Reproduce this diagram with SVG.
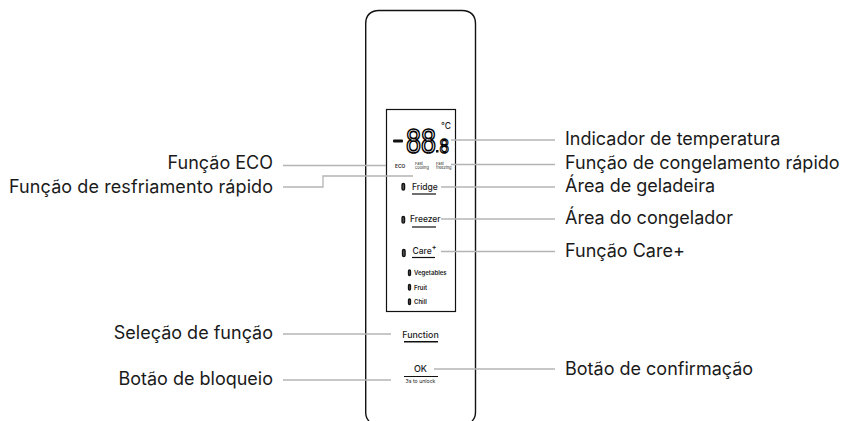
<svg xmlns="http://www.w3.org/2000/svg" width="843" height="421" viewBox="0 0 843 421">
<style>
text{font-family:Inter,"Liberation Sans",sans-serif;fill:#1a1a1a}
.l{font-size:18px}
.e{text-anchor:end}
.m{text-anchor:middle}
.c{fill:none;stroke:#b4b4b4;stroke-width:1.3}
.k{stroke:#111;fill:none}
.p{font-size:8.5px;font-weight:500}
.s{font-size:4px}
.t{font-size:6px;font-weight:600}
.o{fill:#555;stroke:#111;stroke-width:1.300}
.seg{font-family:"Liberation Sans",sans-serif;fill:#fff;stroke:#000;stroke-width:1.700}
</style>
<rect width="843" height="421" fill="#fff"/>
<g id="panel"><path class="k" stroke-width="1.4" d="M369 421Q365.700 418 365.700 412V24Q365.700 11 379 10.500H462Q475.500 11 475.500 24V412Q475.500 418 472 421"/></g>
<g id="display"><rect class="k" x="386.500" y="109.500" width="69" height="202" stroke-width="1.2"/>
<rect x="393" y="139.500" width="10" height="3" rx="1" fill="#111"/>
<text class="seg" transform="translate(406 152.500) scale(.77 1)" font-size="35">88</text>
<rect x="436" y="150" width="2.500" height="2.500" fill="#111"/>
<text class="seg" transform="translate(439.500 152.500) scale(.81 1)" font-size="21" style="stroke-width:1.300">8</text>
<text x="441" y="129" font-size="8.500" style="font-weight:500">°C</text>
</g>
<g id="eco"><text x="395" y="167.500" style="font-size:4.800px;font-weight:600">ECO</text></g>
<g id="fast-cooling"><text class="s" x="415" y="164.500">Fast</text><text class="s" x="415" y="169">cooling</text></g>
<g id="fast-freezing"><text class="s" x="436" y="164.500">Fast</text><text class="s" x="436" y="169">freezing</text></g>
<g id="fridge"><rect class="o" x="402" y="183.500" width="2.600" height="6.500" rx="1.300"/><text class="p" x="412" y="189.500">Fridge</text><line class="k" x1="412" y1="194" x2="436" y2="194" stroke-width="1.200"/></g>
<g id="freezer"><rect class="o" x="402" y="216.500" width="2.600" height="6.500" rx="1.300"/><text class="p" x="410" y="222">Freezer</text><line class="k" x1="412" y1="227" x2="436" y2="227" stroke-width="1.200"/></g>
<g id="care"><rect class="o" x="402.500" y="249.500" width="2.600" height="7" rx="1.300"/><text class="p" x="412.500" y="254">Care<tspan font-size="7" dy="-4" style="font-weight:700">+</tspan></text><line class="k" x1="412" y1="257.500" x2="435" y2="257.500" stroke-width="1.200"/></g>
<g id="vegetables"><rect class="o" x="408.500" y="270" width="2" height="5.500" rx="1"/><text class="t" x="414" y="275">Vegetables</text></g>
<g id="fruit"><rect class="o" x="408.500" y="284.500" width="2" height="5.500" rx="1"/><text class="t" x="414" y="289.500">Fruit</text></g>
<g id="chill"><rect class="o" x="408.500" y="299" width="2" height="5.500" rx="1"/><text class="t" x="414" y="304">Chill</text></g>
<g id="function"><text x="420.500" y="337.700" class="m" style="font-size:8.800px;font-weight:500">Function</text><line class="k" x1="404" y1="341.700" x2="438" y2="341.700" stroke-width="1.500"/></g>
<g id="ok"><text x="420.500" y="372" class="m" style="font-size:9px;font-weight:500">OK</text><line class="k" x1="404" y1="376.500" x2="438" y2="376.500"/><text x="420.500" y="383" class="m" style="font-size:5.200px">3s to unlock</text></g>
<g id="connectors">
<path class="c" d="M283 165.500H386"/>
<path class="c" d="M283 187H323V176H413"/>
<path class="c" d="M283 334H391"/>
<path class="c" d="M283 380H391"/>
<path class="c" d="M451 140H555"/>
<path class="c" d="M451 164.500H555"/>
<path class="c" d="M441 187H555"/>
<path class="c" d="M441 219H555"/>
<path class="c" d="M441 251.500H555"/>
<path class="c" d="M434 369H555"/>
</g>
<g id="labels">
<text class="l e" x="273" y="169">Função ECO</text>
<text class="l e" x="273" y="193" textLength="264">Função de resfriamento rápido</text>
<text class="l e" x="273" y="339">Seleção de função</text>
<text class="l e" x="273" y="385">Botão de bloqueio</text>
<text class="l" x="565" y="145">Indicador de temperatura</text>
<text class="l" x="565" y="169">Função de congelamento rápido</text>
<text class="l" x="565" y="192">Área de geladeira</text>
<text class="l" x="565" y="224">Área do congelador</text>
<text class="l" x="565" y="257">Função Care+</text>
<text class="l" x="565" y="375">Botão de confirmação</text>
</g>
</svg>
